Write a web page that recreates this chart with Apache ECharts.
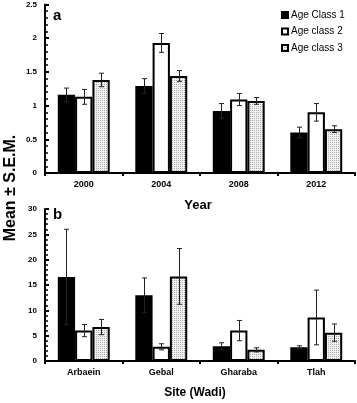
<!DOCTYPE html>
<html>
<head>
<meta charset="utf-8">
<script src="https://cdn.jsdelivr.net/npm/echarts@6/dist/echarts.min.js"></script>
<style>
  html, body { margin: 0; padding: 0; background: #fff; }
  #chart { width: 357px; height: 403px; }
</style>
</head>
<body>
<div id="chart"></div>
<script>
// panel a : by year
let years = ['2000', '2004', '2008', '2012'];
let yearClass1 = [1.16, 1.29, 0.92, 0.60];
let yearClass2 = [1.13, 1.93, 1.09, 0.90];
let yearClass3 = [1.38, 1.44, 1.07, 0.65];
let yearSem1 = [0.10, 0.11, 0.11, 0.08];
let yearSem2 = [0.11, 0.14, 0.09, 0.13];
let yearSem3 = [0.10, 0.08, 0.05, 0.05];

// panel b : by site
let sites = ['Arbaein', 'Gebal', 'Gharaba', 'Tlah'];
let siteClass1 = [16.6, 13.0, 2.9, 2.7];
let siteClass2 = [6.0, 2.8, 6.0, 8.6];
let siteClass3 = [6.7, 16.7, 2.2, 5.6];
let siteSem1 = [9.4, 3.4, 0.7, 0.3];
let siteSem2 = [1.2, 0.6, 2.0, 5.4];
let siteSem3 = [1.5, 5.5, 0.4, 1.7];

let classNames = ['Age Class 1', 'Age class 2', 'Age class 3'];

let font = 'Liberation Sans, Arial, sans-serif';
let catGap = 0.33;

// stippled fill for class 3
function makeDots() {
  let c = document.createElement('canvas');
  c.width = 2; c.height = 2;
  let ctx = c.getContext('2d');
  ctx.fillStyle = '#f2f2f2';
  ctx.fillRect(0, 0, 2, 2);
  ctx.fillStyle = '#a8a8a8';
  ctx.fillRect(0, 0, 1, 1);
  return c;
}
let dots = { image: makeDots(), repeat: 'repeat' };
let fills = ['#000', '#fff', dots];

function errData(vals, sems) {
  return vals.map(function (v, i) { return [i, v, sems[i]]; });
}

function errSeries(vals, sems, k, gi) {
  return {
    type: 'custom',
    xAxisIndex: gi,
    yAxisIndex: gi,
    silent: true,
    z: 5,
    data: errData(vals, sems),
    renderItem: function (params, api) {
      let i = api.value(0);
      let v = api.value(1);
      let s = api.value(2);
      let band = api.size([1, 0])[0];
      let bw = band * (1 - catGap) / 3;
      let top = api.coord([i, v + s]);
      let bot = api.coord([i, v - s]);
      let x = Math.round(top[0] + (k - 1) * bw) + 0.5;
      let style = { stroke: '#222', lineWidth: 1 };
      return {
        type: 'group',
        children: [
          { type: 'line', shape: { x1: x, y1: top[1], x2: x, y2: bot[1] }, style: style },
          { type: 'line', shape: { x1: x - 2.5, y1: top[1], x2: x + 2.5, y2: top[1] }, style: style },
          { type: 'line', shape: { x1: x - 2.5, y1: bot[1], x2: x + 2.5, y2: bot[1] }, style: style }
        ]
      };
    }
  };
}

function barSeries(name, vals, k, gi) {
  return {
    name: name,
    type: 'bar',
    xAxisIndex: gi,
    yAxisIndex: gi,
    data: vals,
    barGap: '0%',
    barCategoryGap: (catGap * 100) + '%',
    itemStyle: { color: fills[k], borderColor: '#000', borderWidth: 2 }
  };
}

function xAxisOf(cats, gi) {
  return {
    type: 'category',
    gridIndex: gi,
    data: cats,
    axisLine: { lineStyle: { color: '#000', width: 2 } },
    axisTick: { show: true, length: 3, lineStyle: { color: '#000', width: 2 } },
    axisLabel: { color: '#000', fontFamily: font, fontWeight: 'bold', fontSize: 9, margin: 7 }
  };
}

function yAxisOf(max, interval, gi, dec) {
  return {
    type: 'value',
    gridIndex: gi,
    min: 0,
    max: max,
    interval: interval,
    splitLine: { show: false },
    axisLine: { show: true, lineStyle: { color: '#000', width: 2 } },
    axisTick: { show: true, inside: true, length: 4, lineStyle: { color: '#000', width: 2 } },
    minorTick: { show: true, splitNumber: 5, length: 3, lineStyle: { color: '#000', width: 1.5 } },
    axisLabel: {
      color: '#000', fontFamily: font, fontWeight: 'bold', fontSize: 8, margin: 8,
      formatter: function (v) { return dec ? String(v) : v.toFixed(0); }
    }
  };
}

let chart = echarts.init(document.getElementById('chart'), null, { renderer: 'canvas' });

let option = {
  animation: false,
  backgroundColor: '#fff',
  grid: [
    { left: 45, right: 2, top: 4.5, bottom: 230 },
    { left: 45, right: 2, top: 209, bottom: 42 }
  ],
  legend: {
    data: classNames,
    orient: 'vertical',
    left: 276,
    top: 5,
    itemWidth: 6,
    itemHeight: 6,
    itemGap: 6.5,
    icon: 'rect',
    textStyle: { color: '#000', fontFamily: font, fontSize: 10, padding: [0, 0, 0, -2] }
  },
  xAxis: [xAxisOf(years, 0), xAxisOf(sites, 1)],
  yAxis: [yAxisOf(2.5, 0.5, 0, true), yAxisOf(30, 5, 1, false)],
  graphic: [
    { type: 'text', left: 53, top: 8, style: { text: 'a', font: 'bold 15px ' + font, fill: '#000' } },
    { type: 'text', left: 53, top: 207, style: { text: 'b', font: 'bold 15px ' + font, fill: '#000' } },
    { type: 'text', x: 198, y: 205, style: { text: 'Year', font: 'bold 13px ' + font, fill: '#000', align: 'center', verticalAlign: 'middle' } },
    { type: 'text', x: 195, y: 393, style: { text: 'Site (Wadi)', font: 'bold 12px ' + font, fill: '#000', align: 'center', verticalAlign: 'middle' } },
    { type: 'text', x: 11, y: 188, rotation: Math.PI / 2, style: { text: 'Mean \u00b1 S.E.M.', font: 'bold 16px ' + font, fill: '#000', align: 'center', verticalAlign: 'middle' } }
  ],
  series: [
    barSeries(classNames[0], yearClass1, 0, 0),
    barSeries(classNames[1], yearClass2, 1, 0),
    barSeries(classNames[2], yearClass3, 2, 0),
    barSeries(classNames[0], siteClass1, 0, 1),
    barSeries(classNames[1], siteClass2, 1, 1),
    barSeries(classNames[2], siteClass3, 2, 1),
    errSeries(yearClass1, yearSem1, 0, 0),
    errSeries(yearClass2, yearSem2, 1, 0),
    errSeries(yearClass3, yearSem3, 2, 0),
    errSeries(siteClass1, siteSem1, 0, 1),
    errSeries(siteClass2, siteSem2, 1, 1),
    errSeries(siteClass3, siteSem3, 2, 1)
  ]
};

chart.setOption(option);
</script>
</body>
</html>
